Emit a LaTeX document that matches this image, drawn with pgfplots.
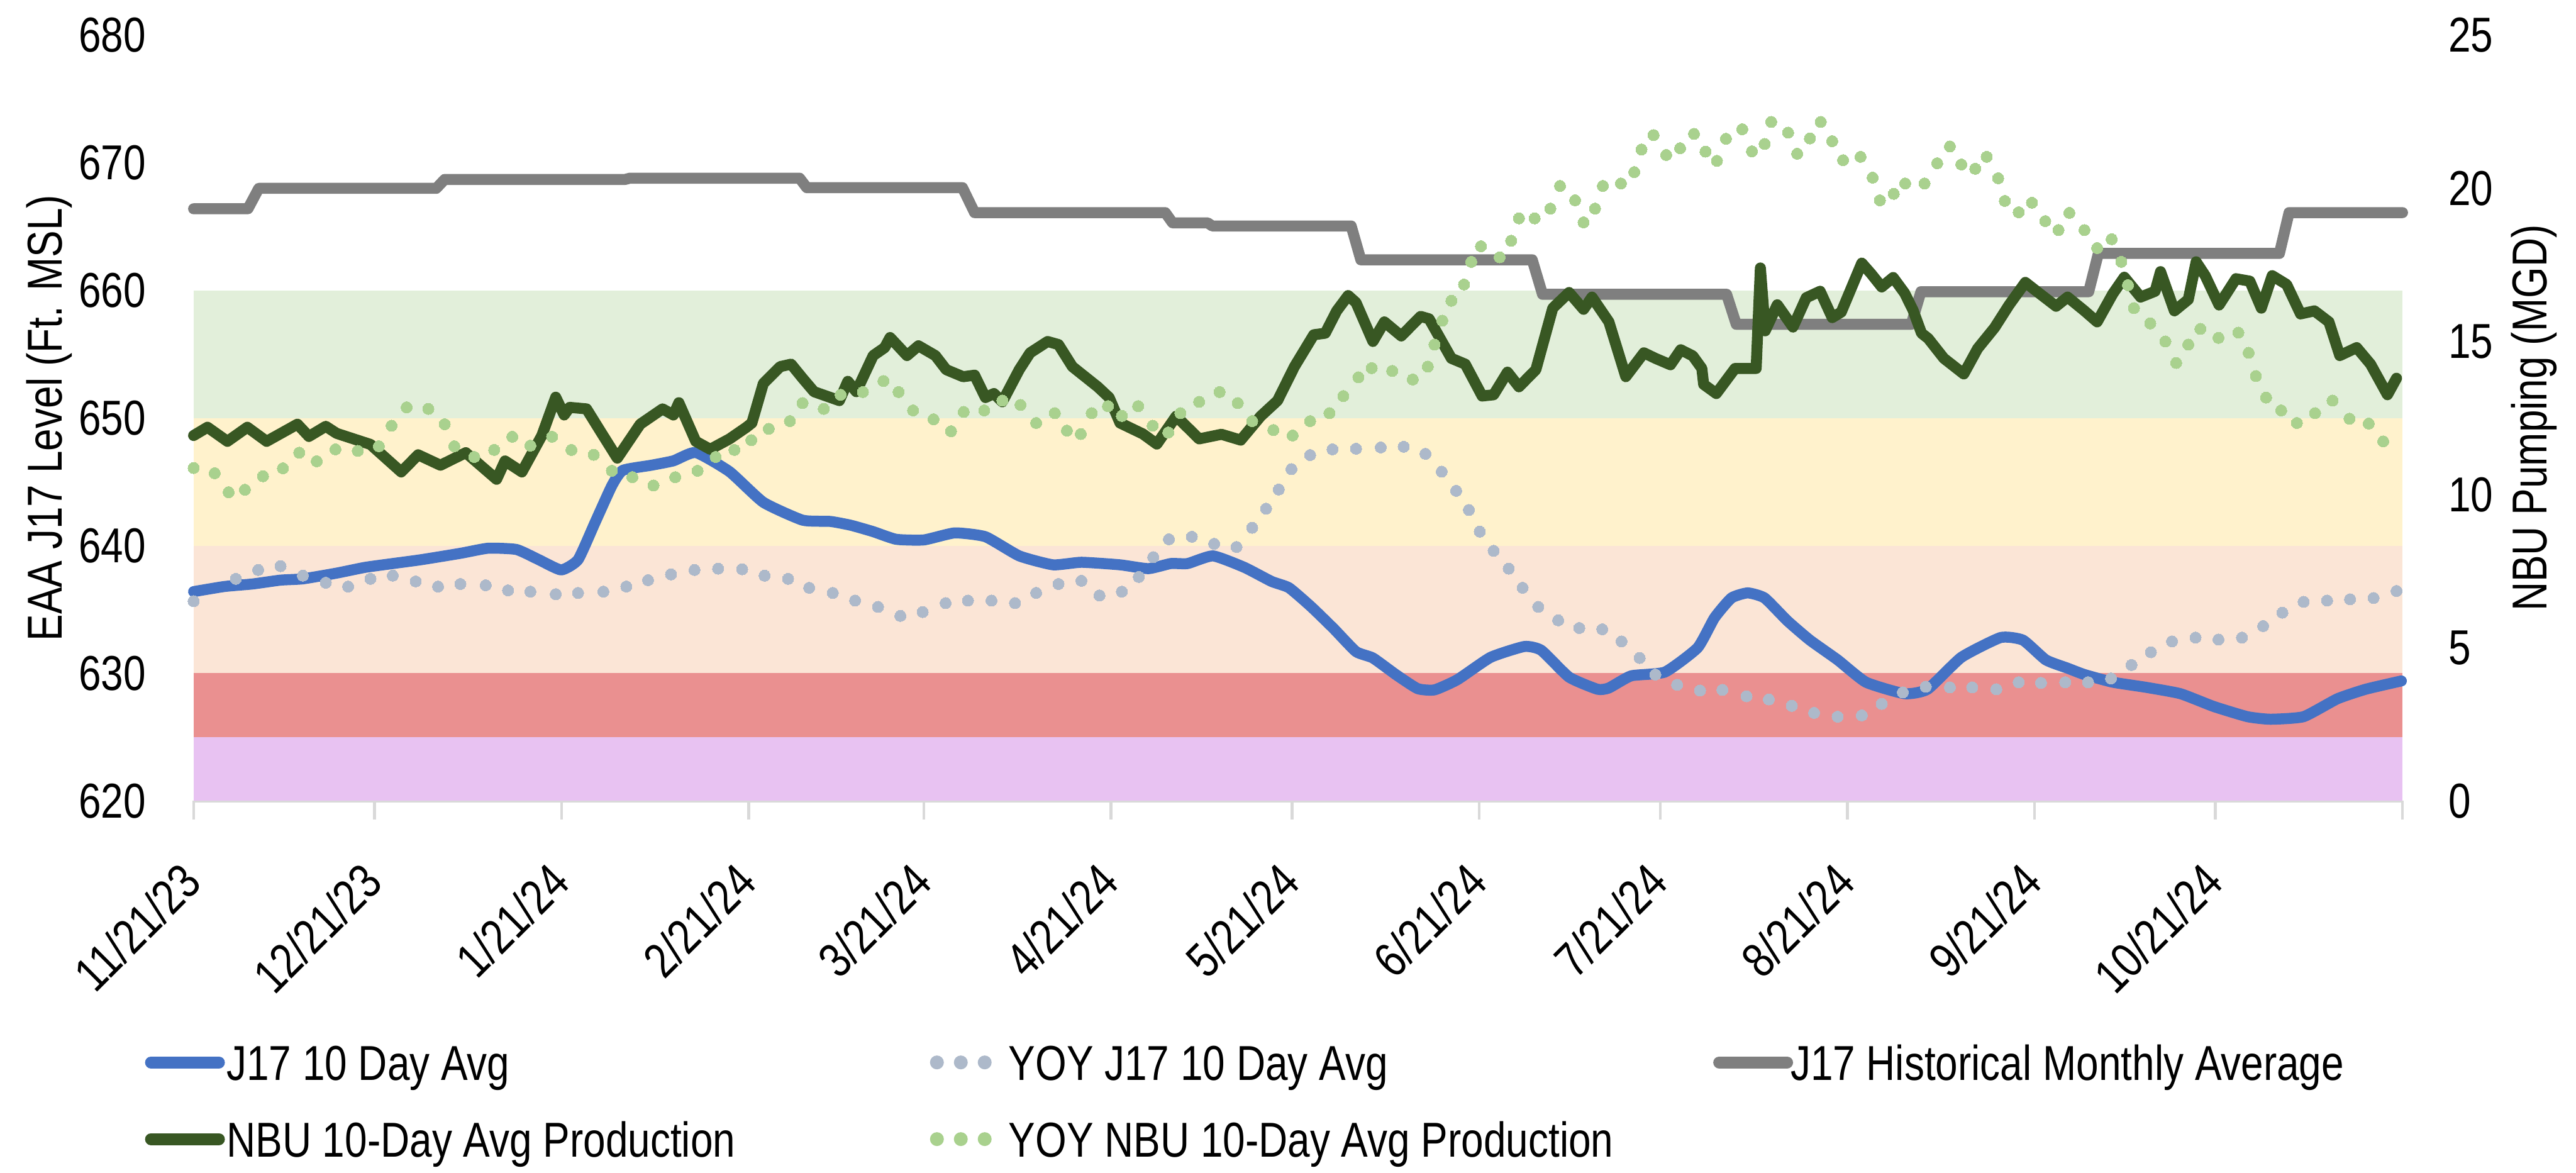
\documentclass[border=0pt]{standalone}
\usepackage{fontspec}
\setmainfont{Liberation Sans}[FakeStretch=0.82]
\usepackage{pgfplots}
\pgfplotsset{compat=1.18}
\definecolor{bandpurple}{HTML}{E8C2F2}
\definecolor{bandred}{HTML}{EA9090}
\definecolor{bandpeach}{HTML}{FBE5D6}
\definecolor{bandyellow}{HTML}{FFF2CC}
\definecolor{bandgreen}{HTML}{E2EFDA}
\definecolor{j17blue}{HTML}{4472C4}
\definecolor{yoyblue}{HTML}{ADB9CA}
\definecolor{histgray}{HTML}{7F7F7F}
\definecolor{nbugreen}{HTML}{385723}
\definecolor{yoygreen}{HTML}{A9D18E}
\definecolor{axisgray}{HTML}{D9D9D9}
\begin{document}
\fontsize{7.8bp}{9.4bp}\selectfont
\begin{tikzpicture}[font=\fontsize{7.8bp}{9.4bp}\selectfont]
\useasboundingbox (-30.8bp,-59.1bp) rectangle (379.0bp,127.4bp);
\pgfplotsset{
  common/.style={
    scale only axis, width=351.4bp, height=121.8bp,
    xmin=0, xmax=366, clip=false,
    /pgf/number format/assume math mode=true,
    yticklabel={\pgfmathprintnumber{\tick}},
    y tick style={draw=none},
    major tick length=3bp, tick align=outside,
  }
}
\begin{axis}[common,
  ymin=620, ymax=680,
  axis x line*=bottom, axis y line*=left,
  x axis line style={draw=axisgray, line width=0.45bp, -},
  y axis line style={draw=none},
  x tick style={draw=axisgray, line width=0.45bp},
  xtick={0,30,61,92,121,152,182,213,243,274,305,335,366},
  xticklabels={11/21/23,12/21/23,1/21/24,2/21/24,3/21/24,4/21/24,5/21/24,6/21/24,7/21/24,8/21/24,9/21/24,10/21/24,{}},
  xticklabel style={inner sep=0pt, anchor=east, xshift=-0.2bp, yshift=-8.3bp, rotate=45},
  ytick={620,630,...,680},
  yticklabel style={inner sep=0pt, anchor=east, xshift=-4.4bp},
  every axis y label/.style={at={(axis description cs:0,0.5)}, xshift=-26.8bp, rotate=90, anchor=north, inner sep=0pt},
  ylabel={EAA J17 Level (Ft. MSL)},
]
\addplot[fill=bandpurple, draw=none, forget plot] coordinates {(0,620) (366,620) (366,625) (0,625)} -- cycle;
\addplot[fill=bandred, draw=none, forget plot] coordinates {(0,625) (366,625) (366,630) (0,630)} -- cycle;
\addplot[fill=bandpeach, draw=none, forget plot] coordinates {(0,630) (366,630) (366,640) (0,640)} -- cycle;
\addplot[fill=bandyellow, draw=none, forget plot] coordinates {(0,640) (366,640) (366,650) (0,650)} -- cycle;
\addplot[fill=bandgreen, draw=none, forget plot] coordinates {(0,650) (366,650) (366,660) (0,660)} -- cycle;
% J17 10 Day Avg
\addplot[j17blue, line width=1.75bp, line cap=round, line join=round, smooth, tension=0.3] coordinates {
(0,636.4) (5.1,636.8) (9.8,637.0) (14.4,637.3) (18.1,637.4) (23.7,637.85) (28.4,638.3) (33,638.6) (37.7,638.9)
(44.2,639.4) (48.8,639.8) (53.5,639.7) (57.2,638.9) (60.9,638.1) (63.7,638.9) (66.5,641.8) (69.3,644.7) (71.1,645.9)
(75.8,646.3) (79.5,646.65) (83.2,647.3) (88.8,645.8) (94.4,643.4) (100.9,642.0) (105.5,641.9) (108.9,641.6)
(112.6,641.1) (116.4,640.5) (121,640.45) (126.1,641.0) (131.2,640.7) (136.8,639.2) (142.4,638.5) (147.1,638.7)
(153.5,638.5) (158.2,638.2) (161.9,638.6) (164.7,638.6) (168.9,639.2) (174.1,638.3) (178.6,637.2) (181.5,636.7)
(185.2,635.2) (188.9,633.5) (192.6,631.7) (195.4,631.2) (199.2,629.9) (202.8,628.8) (205.6,628.7) (209.4,629.5)
(214.9,631.25) (220.5,632.1) (223.3,631.8) (227.9,629.7) (232.6,628.75) (234.5,628.85) (238.2,629.8) (243.8,630.1)
(249.2,632.0) (252,634.35) (254.8,635.9) (257.5,636.3) (260.3,635.9) (264.1,634.1) (267.8,632.6) (272.4,631.05)
(277.1,629.3) (283.5,628.4) (287.3,628.75) (292.9,631.25) (299.4,632.8) (303.1,632.6) (306.9,631.05) (310.5,630.4)
(313.3,629.9) (318,629.3) (323.5,628.9) (329.2,628.4) (334.7,627.4) (340.3,626.6) (344.1,626.4) (349.6,626.6)
(355.2,628.0) (359.9,628.75) (365.8,629.4)
};
% YOY J17 10 Day Avg
\addplot[yoyblue, only marks, mark=*, mark size=0.9bp, mark options={draw=yoyblue, fill=yoyblue, line width=0pt}] coordinates {
(0,635.65) (7,637.4) (10.7,638.1) (14.4,638.4) (18.1,637.65) (21.9,637.1) (25.6,636.8) (29.3,637.4) (33,637.65)
(36.8,637.2) (40.5,636.8) (44.2,637.0) (48.4,636.9) (52.1,636.5) (55.8,636.4) (60,636.2) (63.7,636.3) (67.9,636.4)
(71.7,636.8) (75.3,637.3) (79.1,637.75) (83,638.1) (86.9,638.2) (90.9,638.15) (94.6,637.65) (98.5,637.4) (102,636.7)
(105.9,636.3) (109.6,635.7) (113.4,635.2) (117.1,634.5) (120.8,634.8) (124.6,635.5) (128.3,635.7) (132.2,635.7)
(136.1,635.5) (139.6,636.3) (143.3,637.0) (147.1,637.25) (150.1,636.1) (153.8,636.4) (156.6,637.55) (159,639.1)
(161.6,640.5) (165.4,640.7) (169.1,640.15) (172.8,639.9) (175.4,641.4) (177.7,642.9) (179.8,644.4) (181.9,646.0)
(185,647.1) (188.7,647.55) (192.6,647.6) (196.7,647.7) (200.5,647.75) (204.1,647.2) (206.8,645.8) (209.2,644.3)
(211.3,642.8) (213.1,641.1) (215.4,639.6) (217.9,638.2) (220.2,636.7) (222.8,635.2) (226.1,634.15) (229.6,633.55)
(233.4,633.45) (236.6,632.5) (239.6,631.2) (242.2,629.9) (245.8,629.1) (249.6,628.65) (253.3,628.7) (257.3,628.2)
(261,627.95) (264.8,627.45) (268.5,626.9) (272.4,626.6) (276.4,626.7) (279.7,627.6) (283.2,628.5) (287,628.95)
(291,628.9) (294.7,628.9) (298.7,628.75) (302.4,629.3) (306.1,629.25) (310.1,629.3) (313.9,629.3) (317.7,629.6)
(321.1,630.65) (324.3,631.65) (327.8,632.5) (331.7,632.8) (335.5,632.65) (339.4,632.8) (342.9,633.7) (346.1,634.75)
(349.6,635.6) (353.5,635.7) (357.3,635.8) (361.2,635.9) (365,636.45)
};
% J17 Historical Monthly Average
\addplot[histgray, line width=1.75bp, line cap=round, line join=round] coordinates {
(0,666.4) (9,666.4) (10.8,668.0) (40.2,668.0) (41.6,668.7) (71.5,668.7) (72.3,668.8) (100.4,668.8) (101.6,668.05)
(127.4,668.05) (129.4,666.1) (161,666.1) (162.2,665.3) (168,665.3) (168.8,665.05) (191.8,665.05) (193.4,662.4)
(221.8,662.4) (223.5,659.7) (254,659.7) (255.6,657.35) (284.6,657.35) (286.2,659.9) (314,659.9) (315.6,662.9)
(345.6,662.9) (347.2,666.1) (366,666.1)
};
\end{axis}
\begin{axis}[common,
  ymin=0, ymax=25,
  axis x line=none, axis y line*=right,
  y axis line style={draw=none},
  ytick={0,5,...,25},
  yticklabel style={inner sep=0pt, anchor=west, xshift=4.1bp},
  every axis y label/.style={at={(axis description cs:1,0.5)}, xshift=17.1bp, rotate=90, anchor=north, inner sep=0pt},
  ylabel={NBU Pumping (MGD)},
  legend columns=3,
  legend cell align=left,
  legend style={draw=none, fill=none, inner sep=0pt, outer sep=0pt,
    at={(axis description cs:0,0)}, anchor=north west, xshift=-8.6bp, yshift=-38.6bp,
    column sep=0pt, row sep=4.8bp,
    nodes={inner sep=0pt, text height=5.8bp, text depth=1.6bp},
    /tikz/every odd column/.append style={column sep=-0.6bp},
  },
]
\addlegendimage{legend image code/.code={\draw[line width=1.9bp, j17blue, line cap=round] (0.95bp,0.7bp) -- (11.75bp,0.7bp); \path (0bp,0bp) (12.7bp,0bp);}}
\addlegendentry{\makebox[111.9bp][l]{J17 10 Day Avg}}
\addlegendimage{legend image code/.code={\fill[yoyblue] (0.9bp,0.7bp) circle (0.9bp) (4.7bp,0.7bp) circle (0.9bp) (8.5bp,0.7bp) circle (0.9bp); \path (0bp,0bp) (12.7bp,0bp);}}
\addlegendentry{\makebox[111.9bp][l]{YOY J17 10 Day Avg}}
\addlegendimage{legend image code/.code={\draw[line width=1.9bp, histgray, line cap=round] (0.95bp,0.7bp) -- (11.75bp,0.7bp); \path (0bp,0bp) (12.7bp,0bp);}}
\addlegendentry{J17 Historical Monthly Average}
% NBU 10-Day Avg Production
\addplot[nbugreen, line width=1.75bp, line cap=round, line join=round,
  legend image code/.code={\draw[line width=1.9bp, nbugreen, line cap=round] (0.95bp,0.7bp) -- (11.75bp,0.7bp); \path (0bp,0bp) (12.7bp,0bp);}] coordinates {
(0,11.93) (2.3,12.2) (5.6,11.74) (8.9,12.2) (12.1,11.74) (17.2,12.3) (19.1,11.9) (21.9,12.23) (23.7,12.0) (29.3,11.64)
(34.4,10.74) (37.2,11.3) (40.9,10.96) (45.1,11.37) (50.2,10.5) (51.6,11.1) (54.4,10.74) (57.7,11.93) (60,13.18)
(61.4,12.6) (62.3,12.85) (65.1,12.8) (67.4,12.07) (70.2,11.19) (74,12.3) (77.7,12.8) (79.5,12.6) (80.4,13.0)
(83.2,11.74) (85.6,11.48) (88.8,11.82) (91.6,12.2) (92.5,12.34) (94.4,13.63) (97.2,14.18) (99,14.26) (100.9,13.8)
(102.8,13.36) (107,13.07) (108.4,13.7) (109.8,13.36) (112.6,14.54) (114.5,14.8) (115.4,15.13) (118.2,14.54)
(120.1,14.86) (122.9,14.54) (124.7,14.08) (127.5,13.85) (129.4,13.9) (131.2,13.17) (132.6,13.3) (134,13.03)
(136.8,14.08) (138.6,14.63) (141.5,15.0) (143.3,14.9) (145.6,14.18) (149.8,13.52) (151.7,13.17) (153.5,12.34)
(157.3,11.98) (159.6,11.65) (162.8,12.56) (166.6,11.82) (170.3,11.97) (173.5,11.78) (176.8,12.56) (179.6,13.07)
(182.4,14.18) (185.6,15.22) (187.5,15.27) (189.4,16.0) (191.3,16.5) (192.6,16.27) (195.4,15.0) (197.3,15.64)
(200.1,15.18) (203.3,15.82) (204.7,15.74) (208.4,14.45) (210.7,14.26) (213.5,13.22) (215.4,13.26) (217.7,14.0)
(219.6,13.52) (222.4,14.08) (225.2,16.09) (227.9,16.6) (230.3,16.05) (231.7,16.45) (234.5,15.64) (237.3,13.85)
(240.3,14.63) (242.2,14.45) (244.7,14.24) (246.4,14.73) (248.4,14.53) (249.9,14.12) (250.2,13.6) (252.3,13.3)
(255.4,14.12) (258.9,14.12) (259.6,17.4) (260.4,15.35) (262.4,16.2) (265,15.47) (267.2,16.43) (269.5,16.64)
(271.5,15.78) (273,15.96) (276.4,17.56) (278,17.2) (279.7,16.78) (281.6,17.09) (283.5,16.58) (284.9,16.02)
(286.3,15.27) (287.4,15.1) (290,14.45) (293.3,13.94) (295.6,14.77) (298.4,15.45) (300.8,16.19) (303.5,16.93)
(305.9,16.56) (308.6,16.15) (310.5,16.45) (313.3,16.0) (315.4,15.64) (318,16.56) (319.9,17.1) (322.6,16.45)
(325,16.64) (325.9,17.28) (328.2,16.0) (330.5,16.37) (331.8,17.6) (333.3,17.15) (335.6,16.19) (338.4,17.05)
(340.7,16.97) (342.6,16.09) (344.4,17.15) (346.8,16.86) (349.1,15.9) (351.4,16.0) (353.8,15.64) (355.6,14.54)
(358.4,14.8) (360.7,14.26) (363.5,13.26) (365,13.8)
};
\addlegendentry{NBU 10-Day Avg Production}
% YOY NBU 10-Day Avg Production
\addplot[yoygreen, only marks, mark=*, mark size=0.9bp, mark options={draw=yoygreen, fill=yoygreen, line width=0pt},
  legend image code/.code={\fill[yoygreen] (0.9bp,0.7bp) circle (0.9bp) (4.7bp,0.7bp) circle (0.9bp) (8.5bp,0.7bp) circle (0.9bp); \path (0bp,0bp) (12.7bp,0bp);}] coordinates {
(0,10.87) (3.5,10.7) (5.8,10.08) (8.5,10.16) (11.5,10.6) (14.8,10.86) (17.5,11.37) (20.4,11.09) (23.5,11.48)
(27.2,11.43) (30.7,11.58) (32.8,12.25) (35.3,12.85) (38.9,12.8) (41.6,12.3) (43.2,11.58) (46.5,11.23) (49.8,11.46)
(52.8,11.89) (55.8,11.6) (59.4,11.89) (62.6,11.46) (66.3,11.3) (69.3,10.78) (72.7,10.57) (76.2,10.3) (79.8,10.57)
(83.5,10.78) (86.5,11.23) (89.6,11.46) (92.4,11.78) (95.3,12.15) (98.8,12.4) (100.9,12.99) (104.4,12.8) (107.2,13.26)
(110.9,13.35) (114.3,13.71) (116.8,13.35) (119.2,12.75) (122.6,12.46) (125.5,12.07) (127.6,12.7) (131,12.75)
(134,13.07) (137,12.93) (139.6,12.34) (142.7,12.66) (144.7,12.09) (147,11.98) (148.8,12.66) (151.5,12.89)
(153.8,12.57) (156.5,12.89) (158.9,12.25) (161.5,12.03) (163.5,12.66) (166.6,13.03) (170,13.35) (173,12.99)
(175.4,12.4) (178.9,12.11) (182.1,11.93) (185,12.4) (188.2,12.66) (190.5,13.22) (193,13.83) (195.2,14.13)
(198.6,14.04) (202,13.76) (204.5,14.18) (205.6,14.9) (206.9,15.68) (208.4,16.33) (210.5,16.86) (211.7,17.6)
(213.3,18.11) (216.4,17.75) (218.3,18.29) (219.6,19.02) (222.2,19.02) (224.8,19.34) (226.4,20.08) (228.9,19.61)
(230.3,18.89) (232.2,19.34) (233.5,20.08) (236.5,20.16) (238.7,20.53) (239.9,21.27) (241.9,21.74) (244,21.09)
(246.3,21.31) (248.6,21.78) (250.5,21.2) (252.4,20.9) (253.9,21.62) (256.6,21.93) (258.2,21.21) (260.3,21.45)
(261.4,22.17) (264.2,21.82) (265.7,21.13) (267.8,21.63) (269.6,22.17) (271.5,21.54) (273.3,20.92) (276.2,21.03)
(278.2,20.35) (279.4,19.61) (281.7,19.82) (283.6,20.16) (286.8,20.16) (288.9,20.82) (291,21.37) (292.9,20.78)
(295.2,20.64) (297.1,21.03) (299,20.33) (300.1,19.59) (302.4,19.22) (304.6,19.53) (306.8,18.93) (309,18.64)
(310.8,19.2) (313.3,18.64) (315.4,18.05) (317.8,18.34) (319.4,17.6) (320.5,16.84) (321.5,16.09) (324.2,15.59)
(326.7,15.0) (328.5,14.3) (330.5,14.9) (332.5,15.41) (335.5,15.12) (338.8,15.29) (340.5,14.63) (341.7,13.87)
(343.4,13.17) (345.9,12.75) (348.5,12.34) (351.5,12.66) (354.4,13.07) (357.2,12.48) (360.4,12.32) (362.8,11.74)
};
\addlegendentry{YOY NBU 10-Day Avg Production}
\end{axis}
\end{tikzpicture}
\end{document}
